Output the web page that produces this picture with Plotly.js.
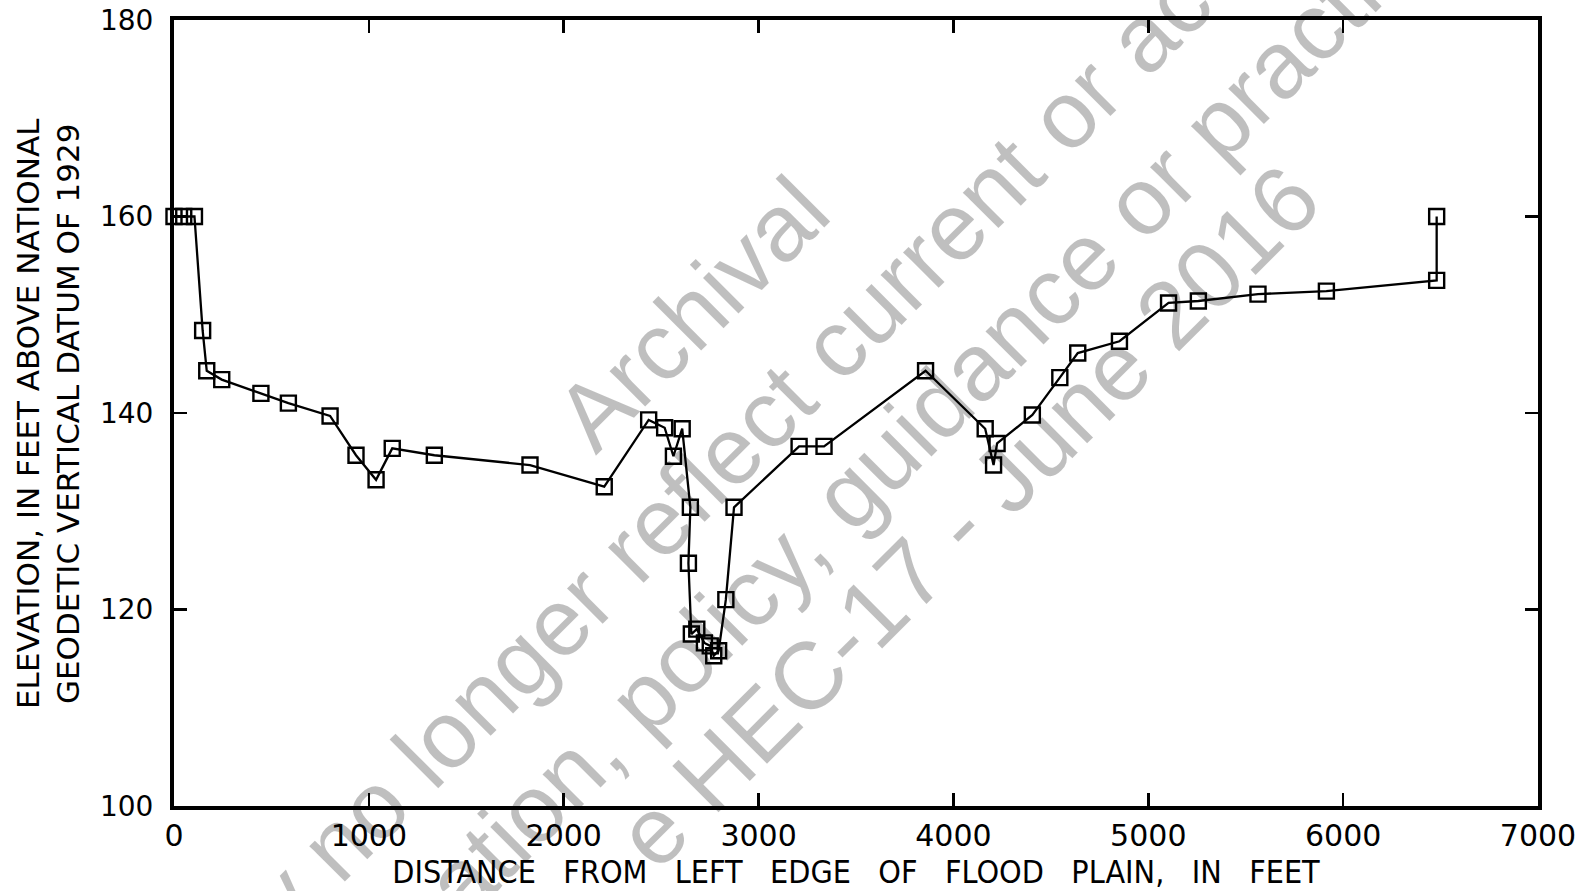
<!DOCTYPE html>
<html>
<head>
<meta charset="utf-8">
<script src="https://cdn.plot.ly/plotly-3.0.1.min.js"></script>
<style>
html,body{margin:0;padding:0;background:#fff;}
#chart{width:1585px;height:891px;}
</style>
</head>
<body>
<div id="chart"></div>
<script>
// Distance from left edge of flood plain (feet)
const distance = [0, 50, 105, 147, 168, 245, 446, 587, 801, 934, 1037, 1120, 1336, 1827, 2208,
  2436, 2518, 2563, 2608, 2650, 2640, 2655, 2683, 2722, 2752, 2770, 2795, 2832, 2874,
  3208, 3336, 3857, 4163, 4206, 4224, 4405, 4546, 4638, 4852, 5104, 5257, 5563, 5914, 6480, 6480];
// Elevation (feet above NGVD 1929)
const elevation = [160, 160, 160, 148.4, 144.3, 143.4, 142.0, 141.0, 139.7, 135.7, 133.2, 136.4, 135.7, 134.7, 132.5,
  139.3, 138.5, 135.6, 138.4, 130.4, 124.7, 117.5, 118.0, 116.6, 116.3, 115.3, 115.8, 121.0, 130.4,
  136.6, 136.6, 144.3, 138.4, 134.7, 136.9, 139.8, 143.6, 146.1, 147.3, 151.2, 151.4, 152.1, 152.4, 153.5, 160];

const xTicks = [0, 1000, 2000, 3000, 4000, 5000, 6000, 7000];
const yTicks = [100, 120, 140, 160, 180];

const xTitle = "DISTANCE   FROM   LEFT   EDGE   OF   FLOOD   PLAIN,   IN   FEET";
const yTitle = "ELEVATION, IN FEET ABOVE NATIONAL<br>GEODETIC VERTICAL DATUM OF 1929";

const watermarkLines = [
  "Archival",
  "y no longer reflect current or ac",
  "ation, policy, guidance or practi",
  "e HEC-17 - June 2016"
];
const watermarkPos = [[0.380, 0.627], [0.4075, 0.453], [0.534, 0.467], [0.582, 0.369]];

const trace = {
  x: distance,
  y: elevation,
  type: "scatter",
  mode: "lines+markers",
  line: {color: "#000", width: 2.3},
  marker: {symbol: "square-open", size: 15, color: "#000", line: {width: 2.4, color: "#000"}},
  cliponaxis: false,
  showlegend: false
};

const annotations = [
  {
    text: yTitle, xref: "paper", yref: "paper", x: -0.0924, y: 0.5,
    xanchor: "center", yanchor: "middle", textangle: -90, showarrow: false,
    font: {family: "DejaVu Sans, sans-serif", size: 31, color: "#000"}
  }
];
watermarkLines.forEach((t, i) => {
  annotations.push({
    text: t, xref: "paper", yref: "paper", x: watermarkPos[i][0], y: watermarkPos[i][1],
    xanchor: "center", yanchor: "middle", textangle: -45, showarrow: false,
    font: {family: "Liberation Sans, Arial, sans-serif", size: 95, color: "rgba(0,0,0,0.25)"}
  });
});

const layout = {
  width: 1585, height: 891,
  margin: {l: 174, r: 47, t: 20, b: 85},
  paper_bgcolor: "#fff", plot_bgcolor: "#fff",
  showlegend: false,
  xaxis: {
    range: [0, 7000], tickvals: xTicks, ticktext: xTicks.map(String),
    showgrid: false, zeroline: false,
    showline: true, linecolor: "#000", linewidth: 4, mirror: "ticks",
    ticks: "inside", ticklen: 13, tickwidth: 2.5, tickcolor: "#000",
    tickfont: {family: "DejaVu Sans, sans-serif", size: 30, color: "#000"},
    title: {text: xTitle, standoff: 6, font: {family: "DejaVu Sans Condensed, DejaVu Sans, sans-serif", size: 32, color: "#000"}}
  },
  yaxis: {
    range: [100, 180], tickvals: yTicks, ticktext: yTicks.map(String),
    showgrid: false, zeroline: false,
    showline: true, linecolor: "#000", linewidth: 4, mirror: "ticks",
    ticks: "inside", ticklen: 13, tickwidth: 2.5, tickcolor: "#000",
    ticklabelstandoff: 11,
    tickfont: {family: "DejaVu Sans, sans-serif", size: 28, color: "#000"},
    title: {text: ""}
  },
  annotations: annotations
};

Plotly.newPlot("chart", [trace], layout, {displayModeBar: false, staticPlot: true});
</script>
</body>
</html>
